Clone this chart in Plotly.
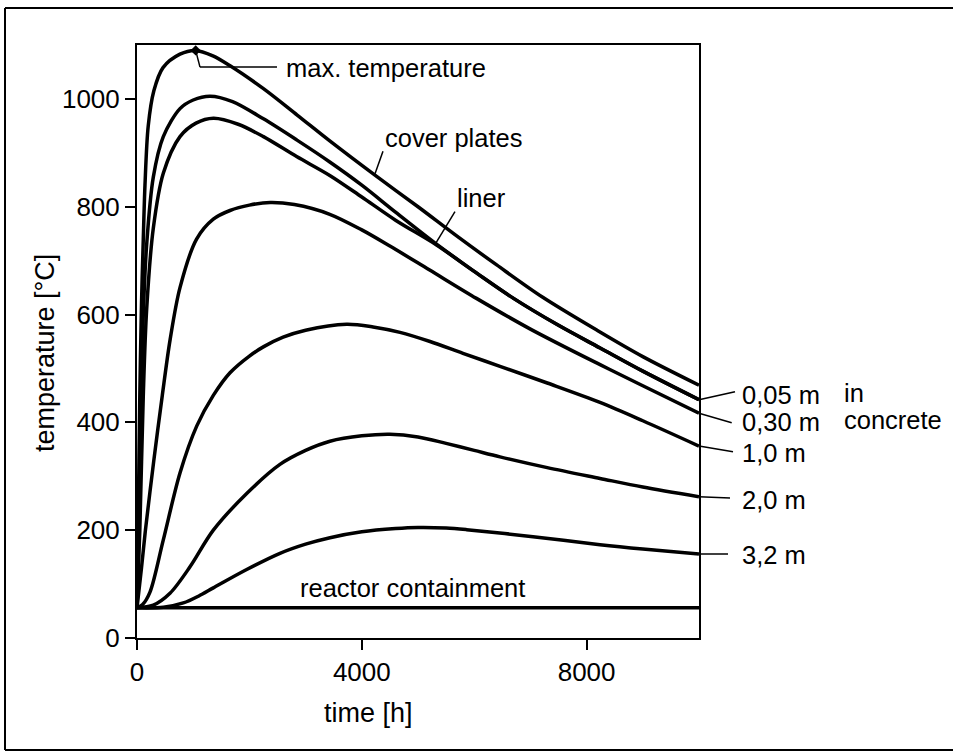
import plotly.graph_objects as go

# ---- data (time in h, temperature in °C) ----
cover_t = [0, 20, 50, 80, 112, 142, 200, 300, 463, 765, 1044, 1350, 1650, 2250, 2850, 3430, 4240, 5000, 5700, 6400, 7220, 8200, 9000, 10000]
cover_T = [56, 200, 450, 620, 740, 840, 950, 1015, 1058, 1083, 1090, 1080, 1062, 1019, 970, 922, 858, 800, 745, 692, 632, 570, 522, 469]

liner_t = [0, 30, 70, 112, 172, 290, 468, 765, 1000, 1300, 1700, 2250, 2840, 3430, 4000, 4600, 5300, 6000, 6700, 7500, 8240, 9000, 10000]
liner_T = [56, 200, 420, 600, 730, 855, 930, 982, 998, 1005, 995, 963, 924, 883, 840, 790, 733, 680, 630, 580, 538, 495, 442]

c005_t = [0, 50, 112, 172, 290, 468, 765, 1050, 1360, 1800, 2250, 2840, 3430, 4000, 4600, 5330, 6000, 6700, 7500, 8240, 9000, 10000]
c005_T = [56, 200, 450, 610, 760, 862, 930, 955, 964, 953, 930, 893, 858, 818, 775, 729, 680, 630, 580, 538, 495, 442]

c030_t = [0, 80, 150, 300, 450, 590, 765, 1060, 1358, 1655, 2000, 2370, 2800, 3430, 4000, 4500, 5200, 6040, 7000, 8240, 9000, 10000]
c030_T = [56, 130, 200, 330, 450, 554, 650, 740, 777, 793, 803, 808, 804, 786, 757, 727, 683, 630, 573, 507, 468, 417]

c10_t = [0, 100, 231, 468, 765, 1062, 1358, 1655, 2000, 2248, 2600, 3000, 3730, 4200, 4680, 5214, 5800, 6459, 7300, 8238, 9000, 10000]
c10_T = [56, 62, 85, 182, 306, 393, 450, 492, 523, 540, 558, 571, 582, 577, 567, 550, 528, 504, 473, 437, 403, 356]

c20_t = [0, 290, 587, 943, 1358, 1952, 2544, 3000, 3434, 4000, 4500, 5000, 5500, 6000, 6459, 7300, 8238, 9000, 10000]
c20_T = [56, 61, 83, 132, 200, 268, 322, 348, 365, 375, 378, 373, 361, 348, 336, 316, 296, 280, 262]

c32_t = [0, 470, 824, 1100, 1358, 1952, 2544, 3000, 3434, 4000, 4600, 5000, 5500, 5866, 7046, 8238, 9000, 10000]
c32_T = [56, 57, 65, 78, 93, 127, 157, 174, 186, 197, 203, 205, 204, 201, 188, 173, 165, 156]

containment_t = [0, 10000]
containment_T = [56, 56]

x_ticks = [0, 4000, 8000]
y_ticks = [0, 200, 400, 600, 800, 1000]

X_MAX = 10000
Y_MAX = 1100

FONT = "Liberation Sans, Arial, Helvetica, sans-serif"
FS = 25.5
FS_TICK = 26
FS_TITLE = 27

series = [
    (cover_t, cover_T), (liner_t, liner_T), (c005_t, c005_T), (c030_t, c030_T),
    (c10_t, c10_T), (c20_t, c20_T), (c32_t, c32_T), (containment_t, containment_T),
]

fig = go.Figure()
for t, T in series:
    fig.add_trace(go.Scatter(x=t, y=T, mode="lines",
                             line=dict(color="black", width=3.5, shape="spline", smoothing=0.9),
                             hoverinfo="skip", showlegend=False))

# marker at maximum of cover plates
imax = cover_T.index(max(cover_T))
fig.add_trace(go.Scatter(x=[cover_t[imax]], y=[cover_T[imax]], mode="markers",
                         marker=dict(color="black", size=8, symbol="diamond"),
                         hoverinfo="skip", showlegend=False))

shapes = []
def seg(x0, y0, x1, y1, xref="x", yref="y", w=1.5):
    shapes.append(dict(type="line", x0=x0, y0=y0, x1=x1, y1=y1, xref=xref, yref=yref,
                       line=dict(color="black", width=w)))

# max. temperature leader
seg(cover_t[imax], cover_T[imax], 1121, 1059)
seg(1121, 1059, 2491, 1059)
# cover plates leader
seg(4377, 903, 4235, 861)
# liner leader
seg(5658, 791, 5320, 733)

def py(T):
    return T / Y_MAX
def px(pix):
    return (pix - 137) / 562.0
def pyp(pix):
    return (638 - pix) / 593.0

ends = [(c005_T[-1], 391.7, 735), (c030_T[-1], 422.7, 731.7), (c10_T[-1], 451.7, 733),
        (c20_T[-1], 498, 730), (c32_T[-1], 554, 728)]
for Tend, ypix, xpix in ends:
    seg(1.0, py(Tend), px(xpix), pyp(ypix), xref="paper", yref="paper")

# outer frame: left, top, bottom (right side runs off the page)
seg(px(5), pyp(8), px(5), pyp(750), xref="paper", yref="paper", w=2)
seg(px(5), pyp(8), px(1010), pyp(8), xref="paper", yref="paper", w=2)
seg(px(5), pyp(750), px(1010), pyp(750), xref="paper", yref="paper", w=2)

annotations = []
def txt(x, y, s, xref="x", yref="y", xanchor="left", angle=0, size=FS):
    annotations.append(dict(x=x, y=y, text=s, xref=xref, yref=yref, showarrow=False,
                            xanchor=xanchor, yanchor="middle", textangle=angle,
                            font=dict(family=FONT, size=size, color="black")))

txt(2616, 1057, "max. temperature")
txt(4377, 928, "cover plates")
txt(5658, 816, "liner")
txt(2865, 92, "reactor containment")

lab = [("0,05 m", 395), ("0,30 m", 422), ("1,0 m", 453), ("2,0 m", 500), ("3,2 m", 555)]
for s, ypix in lab:
    txt(px(740), pyp(ypix), s, xref="paper", yref="paper")
txt(px(842), pyp(393), "in", xref="paper", yref="paper")
txt(px(842), pyp(420), "concrete", xref="paper", yref="paper")

# axis titles
txt(px(45), pyp(353), "temperature [°C]", xref="paper", yref="paper",
    xanchor="center", angle=-90, size=FS_TITLE)
txt(px(368), pyp(713), "time [h]", xref="paper", yref="paper",
    xanchor="center", size=FS_TITLE)

axis_common = dict(showline=True, linecolor="black", linewidth=2, mirror=True,
                   ticks="outside", ticklen=10, tickwidth=2, tickcolor="black",
                   showgrid=False, zeroline=False,
                   tickfont=dict(family=FONT, size=FS_TICK, color="black"))

fig.update_layout(
    width=953, height=753,
    margin=dict(l=137, r=254, t=45, b=115),
    paper_bgcolor="white", plot_bgcolor="white",
    xaxis=dict(range=[0, X_MAX], tickvals=x_ticks, **axis_common),
    yaxis=dict(range=[0, Y_MAX], tickvals=y_ticks, **axis_common),
    shapes=shapes, annotations=annotations,
    font=dict(family=FONT, size=FS, color="black"),
)

fig.write_html("out.html")
